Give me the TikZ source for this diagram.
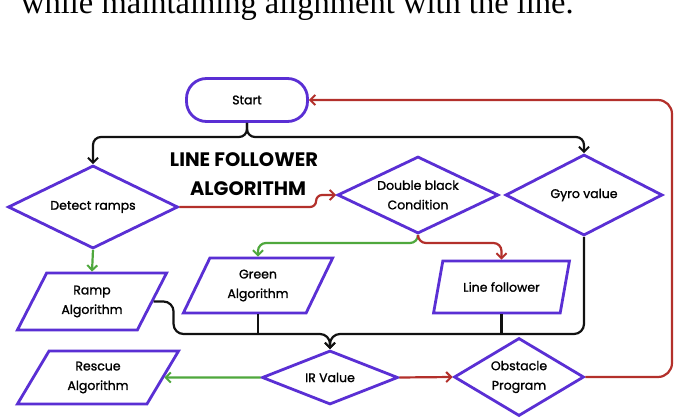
\documentclass[tikz,border=0pt]{standalone}
\usepackage{fontspec}
\setmainfont{Poppins}
\newfontfamily\serifface{Liberation Serif}
\newfontfamily\lblface{Poppins}[FakeBold=1.3]
\usetikzlibrary{shapes.geometric,arrows.meta,calc}
\definecolor{pur}{HTML}{5A2FD4}
\definecolor{rd}{HTML}{B3302B}
\definecolor{gr}{HTML}{4FA83D}
\definecolor{blk}{HTML}{111111}
\tikzset{
  box/.style={draw=pur, line width=2.8pt, inner sep=0pt, align=center,
    font=\lblface\fontsize{12.5}{19.5}\selectfont, text=black},
  dia/.style={box, diamond, shape aspect=2},
  para/.style 2 args={box, trapezium, trapezium stretches=true,
    trapezium left angle=#1, trapezium right angle=#2},
  conn/.style={line width=2.2pt, rounded corners=8pt},
  tip/.style={-{Straight Barb[length=5pt,width=10pt,line width=2pt]}},
  ttl/.style={font=\bfseries\fontsize{19.5}{22}\selectfont, text=black}
}
\begin{document}
\begin{tikzpicture}[x=1pt,y=-1pt]
\useasboundingbox (0,0) rectangle (674,419);
\fill[white] (0,0) rectangle (674,419);
\begin{scope}
\clip (0,0) rectangle (674,419);
\node[anchor=base west, inner sep=0pt, font=\serifface\fontsize{32.5}{34}\selectfont] (cap) at (21,13.5) {while maintaining alignment with the line.};
\end{scope}

\node[box, rectangle, rounded corners=20pt, minimum width=121pt, minimum height=43pt] (start) at (247,100) {Start};
\node[ttl] (t1) at (244,160) {LINE FOLLOWER};
\node[ttl] (t2) at (248,189) {ALGORITHM};

\node[dia, minimum width=170pt, minimum height=83pt] (detect) at (93,207) {Detect ramps};
\node[dia, minimum width=161pt, minimum height=77pt] (dbl) at (418,195) {Double black\\Condition};
\node[dia, minimum width=157pt, minimum height=81pt] (gyro) at (584,195) {Gyro value};

\node[para={58}{122}, minimum width=150pt, minimum height=57pt] (ramp) at (92,301.5) {Ramp\\Algorithm};
\node[para={62}{118}, minimum width=150pt, minimum height=55pt] (green) at (258,285.5) {Green\\Algorithm};
\node[para={58}{122}, minimum width=137pt, minimum height=52pt] (linef) at (501.5,287) {Line follower};
\node[para={58}{122}, minimum width=162pt, minimum height=53pt] (rescue) at (98,377.5) {Rescue\\Algorithm};

\node[dia, minimum width=136pt, minimum height=54pt] (ir) at (330,377.5) {IR Value};
\node[dia, minimum width=130pt, minimum height=78pt] (obst) at (519,377) {Obstacle\\Program};

% start split
\coordinate (split) at (247,137);
\draw[conn, blk, tip] (start.south) |- (split) -| (detect.north);
\draw[conn, blk, tip] (start.south) |- (split) -| (gyro.north);

% detect -> double black
\draw[conn, rd, tip, rounded corners=6pt] (detect.east) -| ($(dbl.west)+(-20,0)$) -- (dbl.west);

% double black split
\coordinate (dsplit) at (418,243);
\draw[conn, gr, tip] (dbl.south) |- (dsplit) -| (green.north);
\draw[conn, rd, tip] (dbl.south) |- (dsplit) -| (linef.north);

% detect -> ramp
\draw[conn, gr, tip] (detect.south) -- (ramp.north);

% merge into IR
\coordinate (mrg) at (330,334);
\draw[conn, blk, tip, rounded corners=10pt] (ramp.east) -| ($(ramp.east)+(20,32.5)$) -| (ir.north);
\draw[conn, blk] (green.south) -- (green.south |- mrg);
\draw[conn, blk] (linef.south) -- (linef.south |- mrg);
\draw[conn, blk, tip, rounded corners=10pt] (gyro.south) |- (mrg) -- (ir.north);

% IR outputs
\draw[conn, gr, tip] (ir.west) -- (rescue.east);
\draw[conn, rd, tip] (ir.east) -- (obst.west);

% obstacle back to start
\coordinate (rb) at (672,377);
\coordinate (rt) at (672,100);
\draw[conn, rd, tip, rounded corners=14pt] (obst.east) -- (rb) -- (rt) -- (start.east);
\end{tikzpicture}
\end{document}
